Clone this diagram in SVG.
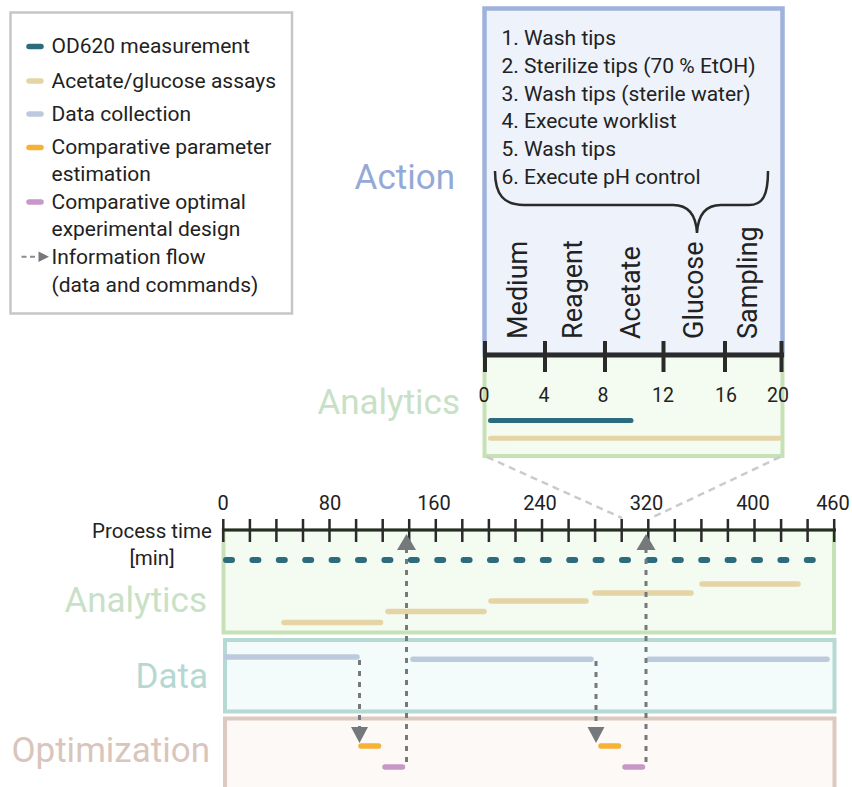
<svg xmlns="http://www.w3.org/2000/svg" width="852" height="787" viewBox="0 0 852 787">
<style>
text{font-family:Roboto,"Liberation Sans",sans-serif;fill:#222}
.t20{font-size:20px}
.t21{font-size:21px}
.big{font-size:35px}
.rot{font-size:27px}
.ax{stroke:#2a2a2a;fill:none}
.bar{fill:none;stroke-linecap:round}
.od{stroke:#2d6c7e}
.ac{stroke:#e5d4a6}
.dc{stroke:#bdcade}
.cp{stroke:#f5b236}
.oe{stroke:#c896c8}
.flow{stroke:#76797c;stroke-width:3;stroke-dasharray:5 6;fill:none}
.head{fill:#76797c}
.zoomln{stroke:#cbcbcb;stroke-width:2.5;stroke-dasharray:7 5;fill:none}
</style>

<g id="legend">
<rect x="10.5" y="12.5" width="281.5" height="301" fill="#fff" stroke="#c6c6c6" stroke-width="2.5"/>
<line class="bar od" x1="29" y1="46.5" x2="41" y2="46.5" stroke-width="5.5"/>
<text class="t21" x="51.5" y="53">OD620 measurement</text>
<line class="bar ac" x1="29" y1="81" x2="41" y2="81" stroke-width="5.5"/>
<text class="t21" x="51.5" y="88">Acetate/glucose assays</text>
<line class="bar dc" x1="29" y1="114" x2="41" y2="114" stroke-width="5.5"/>
<text class="t21" x="51.5" y="121">Data collection</text>
<line class="bar cp" x1="29" y1="147.5" x2="41" y2="147.5" stroke-width="5.5"/>
<text class="t21" x="51.5" y="154">Comparative parameter</text>
<text class="t21" x="51.5" y="181">estimation</text>
<line class="bar oe" x1="29" y1="202" x2="41" y2="202" stroke-width="5.5"/>
<text class="t21" x="51.5" y="209">Comparative optimal</text>
<text class="t21" x="51.5" y="236">experimental design</text>
<line x1="21.5" y1="256.7" x2="38" y2="256.7" stroke="#8a8c8f" stroke-width="2" stroke-dasharray="5 3.5"/>
<polygon points="38.5,251.5 38.5,262 49,256.7" fill="#76797c"/>
<text class="t21" x="51.5" y="264">Information flow</text>
<text class="t21" x="51.5" y="292">(data and commands)</text>
</g>

<g id="action-box">
<rect x="484.5" y="8.5" width="298" height="346.5" fill="#edf2fb" stroke="#9eb2dc" stroke-width="4.5"/>
<text class="t21" x="501.5" y="45">1. Wash tips</text>
<text class="t21" x="501.5" y="72.8">2. Sterilize tips (70 % EtOH)</text>
<text class="t21" x="501.5" y="100.6">3. Wash tips (sterile water)</text>
<text class="t21" x="501.5" y="128.4">4. Execute worklist</text>
<text class="t21" x="501.5" y="156.2">5. Wash tips</text>
<text class="t21" x="501.5" y="184">6. Execute pH control</text>
<path d="M495,171 C495,195 504,205 524,205 L673,205 C689,205 696,215 697,233 C698,215 705,205 721,205 L749,205 C763,205 768,195 768,171" fill="none" stroke="#2a2a2a" stroke-width="2.5"/>
<text class="rot" transform="translate(527,339) rotate(-90)">Medium</text>
<text class="rot" transform="translate(582,339) rotate(-90)">Reagent</text>
<text class="rot" transform="translate(640,339) rotate(-90)">Acetate</text>
<text class="rot" transform="translate(703,339) rotate(-90)">Glucose</text>
<text class="rot" transform="translate(757,339) rotate(-90)">Sampling</text>
</g>
<text id="action-label" class="big" x="455" y="189" text-anchor="end" style="fill:#94a9d7">Action</text>

<g id="zoom-analytics">
<rect x="484.5" y="355" width="298" height="101" fill="#f4fbf1" stroke="#c7e1b6" stroke-width="4"/>
<line class="bar od" x1="490.5" y1="420.5" x2="631" y2="420.5" stroke-width="5"/>
<line class="bar ac" x1="490.5" y1="438.3" x2="779" y2="438.3" stroke-width="5"/>
<g font-size="19.5" text-anchor="middle">
<text x="484" y="401.5">0</text>
<text x="544" y="401.5">4</text>
<text x="603" y="401.5">8</text>
<text x="663" y="401.5">12</text>
<text x="726" y="401.5">16</text>
<text x="778" y="401.5">20</text>
</g>
</g>
<g id="zoom-axis" class="ax">
<line x1="483" y1="355" x2="784" y2="355" stroke-width="5"/>
<path d="M485,341V372M545,341V372M605,341V372M663.5,341V372M725,341V372M781.5,341V372" stroke-width="4"/>
</g>
<text id="analytics-label-top" class="big" x="460" y="414" text-anchor="end" style="fill:#c8e1c6">Analytics</text>

<g id="zoom-lines">
<line class="zoomln" x1="487" y1="457" x2="622" y2="518"/>
<line class="zoomln" x1="780" y1="457" x2="651" y2="518"/>
</g>

<g id="analytics-lane">
<rect x="223.5" y="530" width="610.5" height="102.5" fill="#f4fbf1" stroke="#c7e1b6" stroke-width="4"/>
<line class="bar od" x1="226" y1="560" x2="817" y2="560" stroke-width="6" stroke-dasharray="6 20.4"/>
<line class="bar ac" x1="284" y1="622.5" x2="380.5" y2="622.5" stroke-width="5.5"/>
<line class="bar ac" x1="388" y1="611.5" x2="484" y2="611.5" stroke-width="5.5"/>
<line class="bar ac" x1="491" y1="601" x2="586" y2="601" stroke-width="5.5"/>
<line class="bar ac" x1="595" y1="593" x2="691" y2="593" stroke-width="5.5"/>
<line class="bar ac" x1="702" y1="584" x2="798" y2="584" stroke-width="5.5"/>
</g>
<text id="analytics-label" class="big" x="207" y="612" text-anchor="end" style="fill:#c8e1c6">Analytics</text>

<g id="data-lane">
<rect x="225" y="640" width="609.5" height="71.5" fill="#f3fcfa" stroke="#b7d9d3" stroke-width="4"/>
<line class="bar dc" x1="226" y1="657" x2="357" y2="657" stroke-width="5.5" stroke-linecap="butt"/>
<line class="bar dc" x1="413" y1="659.3" x2="591" y2="659.3" stroke-width="5.5"/>
<line class="bar dc" x1="649" y1="659.3" x2="827" y2="659.3" stroke-width="5.5"/>
</g>
<text id="data-label" class="big" x="208" y="688" text-anchor="end" style="fill:#b5d8d2">Data</text>

<g id="optimization-lane">
<rect x="225" y="718.5" width="609.5" height="80" fill="#fdf9f6" stroke="#dcc9bf" stroke-width="4"/>
<line class="bar cp" x1="361" y1="746" x2="378.5" y2="746" stroke-width="5.5"/>
<line class="bar cp" x1="601" y1="746" x2="618.5" y2="746" stroke-width="5.5"/>
<line class="bar oe" x1="385" y1="767" x2="402.5" y2="767" stroke-width="5.5"/>
<line class="bar oe" x1="625" y1="767" x2="642.5" y2="767" stroke-width="5.5"/>
</g>
<text id="optimization-label" class="big" x="210" y="762" text-anchor="end" style="fill:#d9c5bb">Optimization</text>

<g id="time-axis">
<line class="ax" x1="222" y1="530" x2="836" y2="530" stroke-width="3"/>
<path class="ax" stroke-width="2.5" d="M223.3,519V542M249.9,519V542M276.4,519V542M303,519V542M329.5,519V542M356.1,519V542M382.7,519V542M409.2,519V542M435.8,519V542M462.3,519V542M488.9,519V542M515.5,519V542M542,519V542M568.6,519V542M595.1,519V542M621.7,519V542M648.3,519V542M674.8,519V542M701.4,519V542M727.9,519V542M754.5,519V542M781.1,519V542M807.6,519V542M834.2,519V542"/>
<g class="t20" text-anchor="middle">
<text x="223" y="510">0</text>
<text x="330" y="510">80</text>
<text x="434" y="510">160</text>
<text x="540" y="510">240</text>
<text x="646.5" y="510">320</text>
<text x="753" y="510">400</text>
<text x="833" y="510">460</text>
</g>
<text x="152" y="537.5" text-anchor="middle" font-size="20.5">Process time</text>
<text x="152" y="565" text-anchor="middle" font-size="20.5">[min]</text>
</g>

<g id="connectors">
<line class="flow" x1="359.5" y1="660" x2="359.5" y2="728"/>
<polygon class="head" points="351,727 368,727 359.5,743"/>
<line class="flow" x1="596" y1="661" x2="596" y2="728"/>
<polygon class="head" points="587.5,727 604.5,727 596,743"/>
<line class="flow" x1="406.5" y1="762" x2="406.5" y2="549"/>
<polygon class="head" points="397,550 416,550 406.5,534"/>
<line class="flow" x1="646" y1="762" x2="646" y2="549"/>
<polygon class="head" points="636.5,550 655.5,550 646,534"/>
</g>
</svg>
